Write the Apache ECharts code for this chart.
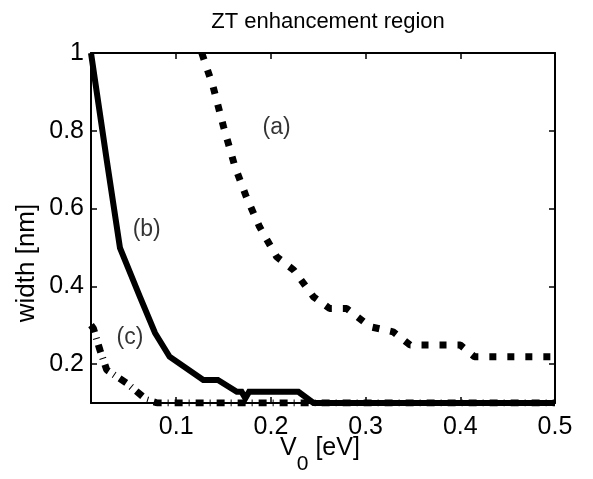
<!DOCTYPE html>
<html>
<head>
<meta charset="utf-8">
<script src="https://cdn.jsdelivr.net/npm/echarts@6/dist/echarts.min.js"></script>
<style>html,body{margin:0;padding:0;background:#fff}#c{width:593px;height:479px}</style>
</head>
<body>
<div id="c"></div>
<script>
// Curve (a): dotted
var aX = [0.127,0.139,0.150,0.162,0.174,0.188,0.206,0.224,0.245,0.262,0.280,0.305,0.329,0.347,0.400,0.415,0.500];
var aY = [1.000,0.913,0.810,0.708,0.630,0.553,0.476,0.442,0.373,0.343,0.343,0.296,0.283,0.249,0.249,0.219,0.219];
// Curve (b): solid
var bX = [0.010,0.0266,0.0406,0.0617,0.0776,0.093,0.1286,0.144,0.164,0.169,0.173,0.177,0.229,0.245,0.500];
var bY = [1.000,0.725,0.499,0.373,0.280,0.219,0.159,0.159,0.129,0.129,0.112,0.129,0.129,0.100,0.100];
// Curve (c): dash-dot
var cX = [0.010,0.0125,0.0195,0.0266,0.0477,0.069,0.080,0.500];
var cY = [0.300,0.292,0.236,0.185,0.151,0.108,0.100,0.100];
// Tick values
var xTicks = [0.1,0.2,0.3,0.4,0.5];
var yTicks = [0.2,0.4,0.6,0.8,1];
// Curve labels
var labelText = ['(a)','(b)','(c)'];
var labelX = [0.206,0.0688,0.0512];
var labelY = [0.807,0.547,0.267];

function pairs(xs, ys){ return xs.map(function(x,i){return [x, ys[i]];}); }

var FONT = 'Liberation Sans, Arial, sans-serif';
var chart = echarts.init(document.getElementById('c'), null, {renderer:'canvas'});
var axisLine = {show:true, lineStyle:{color:'#000', width:2}};
var tickIn = function(vals){ return {show:true, inside:true, length:6, lineStyle:{color:'#000', width:1.5}, customValues:vals}; };

chart.setOption({
  backgroundColor:'#fff',
  animation:false,
  title:{text:'ZT enhancement region', left:323, top:6, textAlign:'center',
    textStyle:{fontFamily:FONT, fontSize:22, fontWeight:'normal', color:'#000'}},
  grid:{left:91, right:38, top:53, bottom:76},
  xAxis:[
    {type:'value', min:0.01, max:0.5, position:'bottom', axisLine:axisLine,
     axisTick:tickIn(xTicks), splitLine:{show:false},
     axisLabel:{customValues:xTicks, formatter:function(v){return String(v);}, margin:12,
       fontFamily:FONT, fontSize:25, color:'#000'}},
    {type:'value', min:0.01, max:0.5, position:'top', axisLine:axisLine,
     axisTick:tickIn(xTicks), splitLine:{show:false}, axisLabel:{show:false}}
  ],
  yAxis:[
    {type:'value', min:0.1, max:1, position:'left', axisLine:axisLine,
     axisTick:tickIn(yTicks), splitLine:{show:false},
     axisLabel:{customValues:yTicks, formatter:function(v){return String(v);}, margin:7,
       fontFamily:FONT, fontSize:25, color:'#000'}},
    {type:'value', min:0.1, max:1, position:'right', axisLine:axisLine,
     axisTick:tickIn(yTicks), splitLine:{show:false}, axisLabel:{show:false}}
  ],
  graphic:[
    {type:'text', x:320, y:448, style:{
      text:'{v|V}{s|0}{v| [eV]}', align:'center', verticalAlign:'middle',
      rich:{v:{fontFamily:FONT, fontSize:25, color:'#000'},
            s:{fontFamily:FONT, fontSize:21, color:'#000', padding:[32,0,0,0]}}}},
    {type:'text', x:27, y:263, rotation:Math.PI/2, style:{
      text:'width [nm]', align:'center', verticalAlign:'middle',
      fontFamily:FONT, fontSize:26, fill:'#000'}}
  ],
  series:[
    {type:'line', name:'c', data:pairs(cX,cY), showSymbol:false, symbol:'none',
     lineStyle:{color:'#000', width:7, type:[8,6,1,6], cap:'butt'}},
    {type:'line', name:'a', data:pairs(aX,aY), showSymbol:false, symbol:'none',
     lineStyle:{color:'#000', width:7, type:[7,11], cap:'butt'}},
    {type:'line', name:'b', data:pairs(bX,bY), showSymbol:false, symbol:'none',
     lineStyle:{color:'#000', width:6, type:'solid', join:'miter'}},
    {type:'scatter', data:labelX.map(function(x,i){return [x, labelY[i], labelText[i]];}),
     symbolSize:0, silent:true,
     label:{show:true, position:'inside', formatter:function(p){return p.data[2];},
       fontFamily:FONT, fontSize:23, color:'#000'}}
  ]
});
</script>
</body>
</html>
